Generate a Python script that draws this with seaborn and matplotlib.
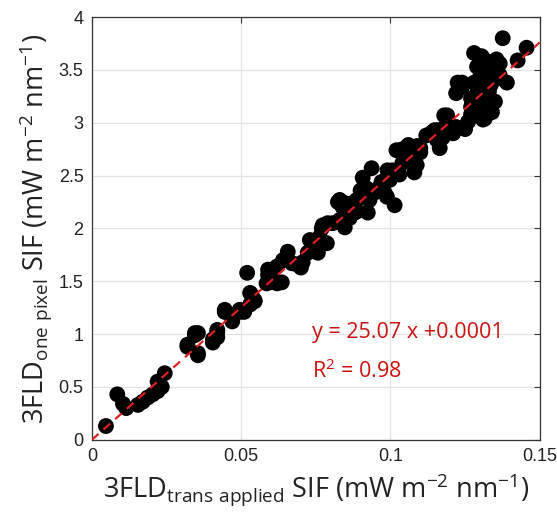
import numpy as np
import pandas as pd
import seaborn as sns
import matplotlib.pyplot as plt

# SIF from trans-applied 3FLD (x) vs. one-pixel 3FLD (y)
sif_trans = [
    0.0047, 0.0085, 0.0104, 0.0115, 0.0154, 0.017, 0.0187, 0.0204, 0.022, 0.0234,
    0.022, 0.0244, 0.032, 0.0345, 0.0355, 0.0355, 0.0405, 0.042, 0.042, 0.0445,
    0.047, 0.047, 0.0495, 0.051, 0.052, 0.053, 0.0535, 0.0545, 0.0585, 0.059,
    0.0605, 0.062, 0.062, 0.064, 0.0345, 0.032, 0.0355, 0.0405, 0.042, 0.0445,
    0.0495, 0.053, 0.0545, 0.059, 0.0596, 0.0606, 0.0636, 0.0656, 0.065, 0.067,
    0.0686, 0.07, 0.0706, 0.0723, 0.073, 0.0747, 0.0757, 0.0763, 0.077, 0.0773,
    0.0787, 0.079, 0.0807, 0.083, 0.0847, 0.0824, 0.0847, 0.0864, 0.0887, 0.0904,
    0.0907, 0.092, 0.083, 0.084, 0.0864, 0.088, 0.0887, 0.0924, 0.093, 0.0937,
    0.0947, 0.0964, 0.0988, 0.099, 0.0998, 0.1014, 0.102, 0.103, 0.104, 0.106,
    0.107, 0.108, 0.1088, 0.11, 0.0874, 0.09, 0.095, 0.097, 0.098, 0.1008,
    0.104, 0.105, 0.109, 0.11, 0.112, 0.114, 0.1155, 0.1165, 0.1175, 0.1148,
    0.118, 0.119, 0.121, 0.122, 0.1225, 0.124, 0.126, 0.127, 0.127, 0.125,
    0.1186, 0.116, 0.122, 0.1276, 0.13, 0.133, 0.131, 0.1316, 0.134, 0.132,
    0.128, 0.131, 0.1336, 0.139, 0.129, 0.132, 0.124, 0.13, 0.1326, 0.136,
    0.129, 0.132, 0.1356, 0.128, 0.131, 0.134, 0.1366, 0.1376, 0.1456, 0.1426,
    0.13, 0.1366, 0.133, 0.135, 0.127, 0.132, 0.1345, 0.1335, 0.1355, 0.1305,
]
sif_one = [
    0.13, 0.43, 0.34, 0.30, 0.33, 0.36, 0.40, 0.43, 0.46, 0.50,
    0.55, 0.63, 0.90, 0.99, 1.01, 0.80, 0.92, 0.97, 1.04, 1.23,
    1.12, 1.18, 1.23, 1.21, 1.58, 1.28, 1.37, 1.32, 1.48, 1.56,
    1.61, 1.64, 1.48, 1.70, 1.01, 0.88, 0.82, 0.95, 1.02, 1.21,
    1.21, 1.39, 1.31, 1.61, 1.49, 1.53, 1.49, 1.78, 1.72, 1.67,
    1.66, 1.63, 1.68, 1.77, 1.89, 1.83, 1.77, 1.92, 2.00, 2.03,
    1.86, 2.05, 2.05, 2.08, 2.01, 2.25, 2.24, 2.15, 2.16, 2.29,
    2.48, 2.38, 2.27, 2.20, 2.10, 2.15, 2.27, 2.15, 2.27, 2.57,
    2.34, 2.39, 2.30, 2.55, 2.46, 2.22, 2.74, 2.51, 2.62, 2.79,
    2.67, 2.53, 2.60, 2.76, 2.24, 2.36, 2.36, 2.44, 2.34, 2.55,
    2.75, 2.68, 2.78, 2.72, 2.88, 2.91, 2.84, 2.76, 2.86, 2.93,
    3.07, 3.07, 2.90, 2.96, 3.38, 3.34, 3.01, 3.23, 3.15, 2.94,
    2.97, 2.93, 3.28, 3.17, 3.14, 3.12, 3.03, 3.04, 3.10, 3.24,
    3.38, 3.34, 3.36, 3.38, 3.28, 3.50, 3.38, 3.43, 3.42, 3.42,
    3.53, 3.50, 3.50, 3.66, 3.61, 3.57, 3.56, 3.80, 3.71, 3.59,
    3.59, 3.45, 3.30, 3.20, 3.08, 3.46, 3.47, 3.55, 3.60, 3.63,
]
slope = 25.07
intercept = 0.0001

df = pd.DataFrame({'x': sif_trans, 'y': sif_one})
fit = pd.DataFrame({'x': [0.0, 0.15]})
fit['y'] = slope * fit['x'] + intercept

sns.set_theme(style="whitegrid")
plt.rcParams['font.family'] = ['Liberation Sans', 'DejaVu Sans']
label_font = ['Open Sans', 'DejaVu Sans']

fig = plt.figure(figsize=(5.57, 5.18), dpi=100)
ax = fig.add_axes([0.165, 0.151, 0.804, 0.816])

sns.scatterplot(data=df, x='x', y='y', color='black', s=130, edgecolor='none', ax=ax, zorder=3)
sns.lineplot(data=fit, x='x', y='y', color='#e02020', linestyle=(0, (4, 3)), linewidth=1.6, ax=ax, zorder=4)

ax.set_xlim(0, 0.15)
ax.set_ylim(0, 4)
ax.set_xticks([0, 0.05, 0.1, 0.15])
ax.set_xticklabels(['0', '0.05', '0.1', '0.15'])
ax.set_yticks([0, 0.5, 1, 1.5, 2, 2.5, 3, 3.5, 4])
ax.set_yticklabels(['0', '0.5', '1', '1.5', '2', '2.5', '3', '3.5', '4'])
ax.grid(True, color='#e3e3e3', linewidth=0.9)
ax.tick_params(direction='in', top=True, right=True, length=4, width=0.8,
               color='#333333', labelsize=13, labelcolor='#222222', pad=6)
for sp in ax.spines.values():
    sp.set_color('#333333')
    sp.set_linewidth(0.9)

ax.set_xlabel(r'3FLD$\mathregular{_{trans\ applied}}$ SIF (mW m$\mathregular{^{-2}}$ nm$\mathregular{^{-1}}$)',
              fontsize=19.5, family=label_font, color='#222222', labelpad=5)
ax.set_ylabel(r'3FLD$\mathregular{_{one\ pixel}}$ SIF (mW m$\mathregular{^{-2}}$ nm$\mathregular{^{-1}}$)',
              fontsize=19.5, family=label_font, color='#222222', labelpad=3)

ax.text(0.0736, 0.96, 'y = 25.07 x +0.0001', color='#cc1111', fontsize=15.5, family=label_font)
ax.text(0.0736, 0.58, r'R$\mathregular{^2}$ = 0.98', color='#cc1111', fontsize=15.5, family=label_font)

fig.savefig('out.png', dpi=100)
